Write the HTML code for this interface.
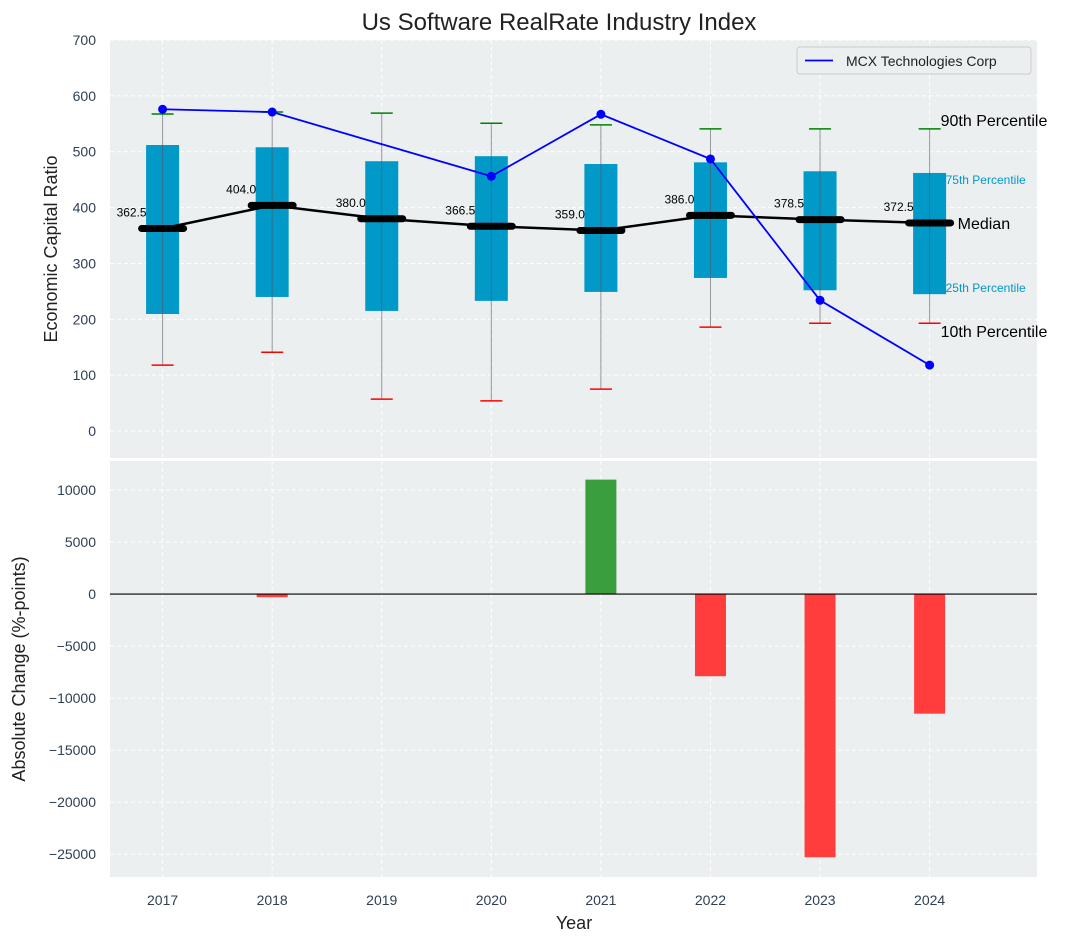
<!DOCTYPE html>
<html><head><meta charset="utf-8"><style>
body{margin:0;background:#fff;}
svg{font-family:"Liberation Sans","DejaVu Sans",sans-serif;}
</style></head><body>
<svg id="chart" width="1076" height="942" xmlns="http://www.w3.org/2000/svg"></svg>
<script>
const years=[2017,2018,2019,2020,2021,2022,2023,2024];
const q1=[209.5,240,215,233,249,274,252,245];
const q3=[512,508,483,492,478,481,465,462];
const p10=[118,141,57,54,75,186,193,193];
const p90=[567.5,571,569,551,548,541,541,541];
const medians=[362.5,404,380,366.5,359,386,378.5,372.5];
const companyYears=[2017,2018,2020,2021,2022,2023,2024];
const companyValues=[576,571,456,567,487,234,118];
const changes=[0,-300,0,0,11000,-7900,-25300,-11500];
const topTicks=[0,100,200,300,400,500,600,700];
const botTicks=[-25000,-20000,-15000,-10000,-5000,0,5000,10000];

const svg=document.getElementById('chart');
const NS='http://www.w3.org/2000/svg';
function mk(tag,attrs,parent,name,text){const e=document.createElementNS(NS,tag);for(const k in attrs)e.setAttribute(k,attrs[k]);


if(text!==undefined)e.textContent=text;(parent||svg).appendChild(e);return e;}
const L=110,R=1037;
const x=v=>L+(v-2016.52)/(2024.98-2016.52)*(R-L);
const T1=40,B1=458,yt=v=>T1+(700-v)/(700-(-48.3))*(B1-T1);
const T2=461,B2=877,yb=v=>T2+(12790-v)/(12790-(-27200))*(B2-T2);
const tickCol='#2e3f52';

mk('text',{x:559,y:30,'font-size':24,'text-anchor':'middle',fill:'#222'},svg,'chart-title','Us Software RealRate Industry Index');
mk('rect',{x:L,y:T1,width:R-L,height:B1-T1,fill:'#ebeff0'},svg,'top-plot-bg');
mk('rect',{x:L,y:T2,width:R-L,height:B2-T2,fill:'#ebeff0'},svg,'bottom-plot-bg');
years.forEach(v=>{mk('line',{x1:x(v),x2:x(v),y1:T1,y2:B1,stroke:'#fff','stroke-dasharray':'4,3'},svg,'top-x-grid');
mk('line',{x1:x(v),x2:x(v),y1:T2,y2:B2,stroke:'#fff','stroke-dasharray':'4,3'},svg,'bottom-x-grid');
mk('text',{x:x(v),y:905,'font-size':14,'text-anchor':'middle',fill:tickCol},svg,'x-tick-label',v);});
topTicks.forEach(v=>{mk('line',{x1:L,x2:R,y1:yt(v),y2:yt(v),stroke:'#fff','stroke-dasharray':'4,3'},svg,'top-y-grid');
mk('text',{x:96,y:yt(v)+5,'font-size':14,'text-anchor':'end',fill:tickCol},svg,'top-y-tick-label',v);});
botTicks.forEach(v=>{mk('line',{x1:L,x2:R,y1:yb(v),y2:yb(v),stroke:'#fff','stroke-dasharray':'4,3'},svg,'bottom-y-grid');
mk('text',{x:96,y:yb(v)+5,'font-size':14,'text-anchor':'end',fill:tickCol},svg,'bottom-y-tick-label',v<0?'\u2212'+(-v):v);});
mk('text',{x:0,y:0,'font-size':18,'text-anchor':'middle',fill:'#222',transform:'translate(57,249) rotate(-90)'},svg,'top-y-axis-title','Economic Capital Ratio');
mk('text',{x:0,y:0,'font-size':18,'text-anchor':'middle',fill:'#222',transform:'translate(25,669) rotate(-90)'},svg,'bottom-y-axis-title','Absolute Change (%-points)');
mk('text',{x:574,y:929,'font-size':18,'text-anchor':'middle',fill:'#222'},svg,'x-axis-title','Year');
years.forEach((yr,i)=>{const cx=x(yr);
mk('rect',{x:cx-16.5,y:yt(q3[i]),width:33,height:yt(q1[i])-yt(q3[i]),fill:'#0099c8'},svg,'iqr-box');
mk('line',{x1:cx,x2:cx,y1:yt(p90[i]),y2:yt(p10[i]),stroke:'#556',"stroke-opacity":0.6,'stroke-width':1},svg,'whisker');
mk('line',{x1:cx-11,x2:cx+11,y1:yt(p10[i]),y2:yt(p10[i]),stroke:'red','stroke-width':1.5},svg,'p10-cap');
mk('line',{x1:cx-11,x2:cx+11,y1:yt(p90[i]),y2:yt(p90[i]),stroke:'green','stroke-width':1.5},svg,'p90-cap');
mk('line',{x1:cx-21,x2:cx+21,y1:yt(medians[i]),y2:yt(medians[i]),stroke:'#000','stroke-width':7,'stroke-linecap':'round'},svg,'median-marker');
mk('text',{x:cx-31,y:yt(medians[i])-12,'font-size':12,'text-anchor':'middle',fill:'#000'},svg,'median-label',medians[i].toFixed(1));
});
mk('polyline',{points:years.map((yr,i)=>x(yr)+','+yt(medians[i])).join(' '),fill:'none',stroke:'#000','stroke-width':2.5},svg,'median-line');
mk('polyline',{points:companyYears.map((yr,i)=>x(yr)+','+yt(companyValues[i])).join(' '),fill:'none',stroke:'blue','stroke-width':1.8},svg,'company-line');
companyYears.forEach((yr,i)=>mk('circle',{cx:x(yr),cy:yt(companyValues[i]),r:4.5,fill:'blue'},svg,'company-point'));
const lx=x(2024);
mk('text',{x:lx+11,y:yt(p90[7])-3,'font-size':16,fill:'#000'},svg,'p90-annotation','90th Percentile');
mk('text',{x:lx+16,y:yt(q3[7])+11,'font-size':12,fill:'#0099c8'},svg,'p75-annotation','75th Percentile');
mk('text',{x:lx+28,y:yt(medians[7])+6,'font-size':16,fill:'#000'},svg,'median-annotation','Median');
mk('text',{x:lx+16,y:yt(q1[7])-2,'font-size':12,fill:'#0099c8'},svg,'p25-annotation','25th Percentile');
mk('text',{x:lx+11,y:yt(p10[7])+14,'font-size':16,fill:'#000'},svg,'p10-annotation','10th Percentile');
const lg=mk('g',{},svg,'legend');
mk('rect',{x:797,y:47,width:234,height:27,fill:'#ebeff0',stroke:'#ccc',rx:3},lg,'legend-box');
mk('line',{x1:805,x2:833,y1:60.5,y2:60.5,stroke:'blue','stroke-width':1.8},lg,'legend-swatch');
mk('text',{x:846,y:66,'font-size':14,fill:'#222'},lg,'legend-label','MCX Technologies Corp');
years.forEach((yr,i)=>{const v=changes[i];if(v===0)return;const y0=yb(0),y1=yb(v);
mk('rect',{x:x(yr)-15.5,y:Math.min(y0,y1),width:31,height:Math.abs(y1-y0),fill:v>0?'#3a9e3e':'#ff3d3d'},svg,'change-bar');});
mk('line',{x1:L,x2:R,y1:yb(0),y2:yb(0),stroke:'#000','stroke-width':1.2},svg,'zero-line');
</script>
</body></html>
